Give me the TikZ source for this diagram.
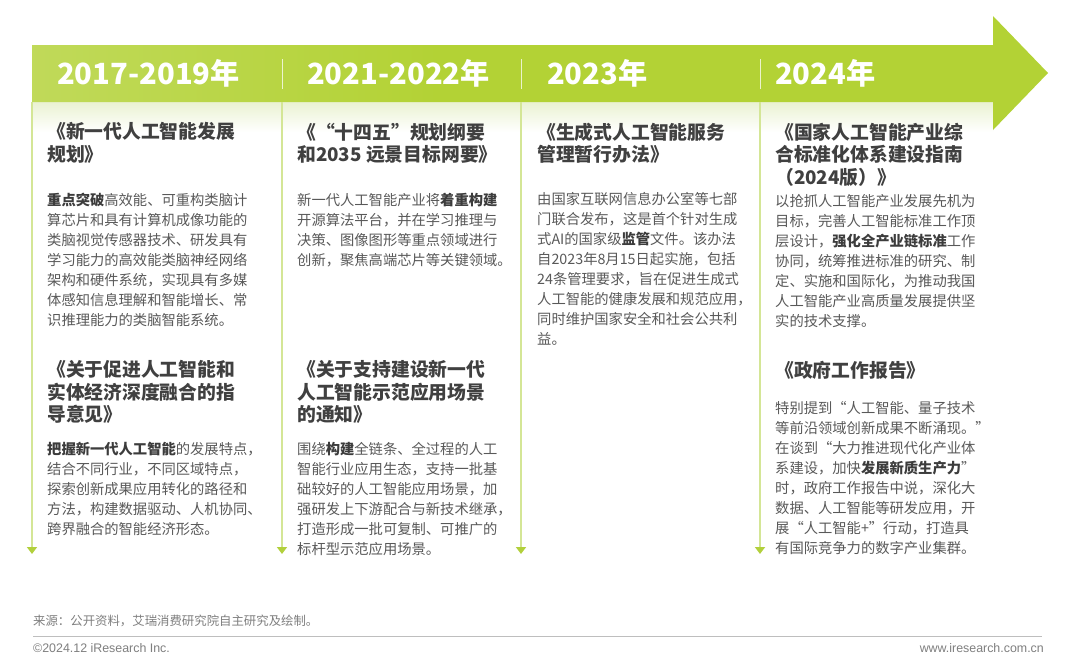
\documentclass[tikz,border=0pt]{standalone}
\usepackage{fontspec}
\setmainfont{Noto Sans CJK SC}
\newfontfamily\latinfont{Liberation Sans}
\usetikzlibrary{arrows.meta}
\definecolor{gA}{RGB}{208,227,134}
\definecolor{gB}{RGB}{179,210,53}
\definecolor{glow}{RGB}{234,242,210}
\definecolor{tline}{RGB}{212,230,150}
\definecolor{ttri}{RGB}{178,208,60}
\definecolor{ttl}{RGB}{64,64,64}
\definecolor{bdy}{RGB}{89,89,89}
\definecolor{emph}{RGB}{60,60,60}
\definecolor{foot}{RGB}{127,127,127}
\definecolor{footline}{RGB}{190,190,190}
\pgfdeclarehorizontalshading{bandshade}{100bp}{color(0bp)=(gA); color(45bp)=(gB); color(100bp)=(gB)}
\newcommand{\hlt}[1]{{\bfseries\color{emph}#1}}
\begin{document}
\begin{tikzpicture}[x=1pt,y=-1pt,
  yeartxt/.style={anchor=base west, inner sep=0pt, text=white, font=\fontsize{29.2}{30}\selectfont\bfseries},
  ttlblk/.style={anchor=north west, inner sep=0pt, align=left, text=ttl, font=\fontsize{18.8}{22.5}\selectfont\bfseries},
  bodyblk/.style={anchor=north west, inner sep=0pt, align=left, text=bdy, font=\fontsize{14.3}{20}\selectfont},
  tl/.style={draw=tline, line width=2.4pt, -{Triangle[width=10pt,length=7pt,color=ttri]}},
  sepline/.style={draw=white, opacity=0.75, line width=1pt},
  foottxt/.style={inner sep=0pt, text=foot}]
\useasboundingbox (0,0) rectangle (1080,662);
\fill[white] (0,0) rectangle (1080,662);
% glow under band
\shade[top color=glow, bottom color=white] (32,102) rectangle (993,132);
% big arrow
\shade[shading=bandshade] (32,45) -- (993,45) -- (993,16) -- (1048,73) -- (993,130) -- (993,102) -- (32,102) -- cycle;
% separators
\foreach \i/\x in {1/282,2/521,3/760}{
  \coordinate (s\i a) at (\x,59);
  \coordinate (s\i b) at (\x,89);
  \draw[sepline] (s\i a) -- (s\i b);
}
% years
\node[yeartxt] (y1) at (57,84) {2017-2019年};
\node[yeartxt] (y2) at (307,84) {2021-2022年};
\node[yeartxt] (y3) at (547,84) {2023年};
\node[yeartxt] (y4) at (775,84) {2024年};
% timelines
\foreach \i/\x in {1/32,2/282,3/521,4/760}{
  \coordinate (t\i a) at (\x,102);
  \coordinate (t\i b) at (\x,554);
  \draw[tl] (t\i a) -- (t\i b);
}
% column 1
\node[ttlblk] (c1t1) at (47,122.5) {《新一代人工智能发展\\规划》};
\node[bodyblk] (c1b1) at (47,192.6) {\hlt{重点突破}高效能、可重构类脑计\\算芯片和具有计算机成像功能的\\类脑视觉传感器技术、研发具有\\学习能力的高效能类脑神经网络\\架构和硬件系统，实现具有多媒\\体感知信息理解和智能增长、常\\识推理能力的类脑智能系统。};
\node[ttlblk] (c1t2) at (47,360.5) {《关于促进人工智能和\\实体经济深度融合的指\\导意见》};
\node[bodyblk] (c1b2) at (47,441.6) {\hlt{把握新一代人工智能}的发展特点，\\结合不同行业，不同区域特点，\\探索创新成果应用转化的路径和\\方法，构建数据驱动、人机协同、\\跨界融合的智能经济形态。};
% column 2
\node[ttlblk] (c2t1) at (297,122.5) {《“十四五”规划纲要\\和2035 远景目标网要》};
\node[bodyblk] (c2b1) at (297,192.6) {新一代人工智能产业将\hlt{着重构建}\\开源算法平台，并在学习推理与\\决策、图像图形等重点领域进行\\创新，聚焦高端芯片等关键领域。};
\node[ttlblk] (c2t2) at (297,360.5) {《关于支持建设新一代\\人工智能示范应用场景\\的通知》};
\node[bodyblk] (c2b2) at (297,441.6) {围绕\hlt{构建}全链条、全过程的人工\\智能行业应用生态，支持一批基\\础较好的人工智能应用场景，加\\强研发上下游配合与新技术继承，\\打造形成一批可复制、可推广的\\标杆型示范应用场景。};
% column 3
\node[ttlblk] (c3t1) at (537,122.5) {《生成式人工智能服务\\管理暂行办法》};
\node[bodyblk] (c3b1) at (537,192.6) {由国家互联网信息办公室等七部\\门联合发布，这是首个针对生成\\式AI的国家级\hlt{监管}文件。该办法\\自2023年8月15日起实施，包括\\24条管理要求，旨在促进生成式\\人工智能的健康发展和规范应用，\\同时维护国家安全和社会公共利\\益。};
% column 4
\node[ttlblk] (c4t1) at (775,122.5) {《国家人工智能产业综\\合标准化体系建设指南\\（2024版）》};
\node[bodyblk] (c4b1) at (775,194.6) {以抢抓人工智能产业发展先机为\\目标，完善人工智能标准工作顶\\层设计，\hlt{强化全产业链标准}工作\\协同，统筹推进标准的研究、制\\定、实施和国际化，为推动我国\\人工智能产业高质量发展提供坚\\实的技术支撑。};
\node[ttlblk] (c4t2) at (775,360.5) {《政府工作报告》};
\node[bodyblk] (c4b2) at (775,401.6) {特别提到“人工智能、量子技术\\等前沿领域创新成果不断涌现。”\\在谈到“大力推进现代化产业体\\系建设，加快\hlt{发展新质生产力}”\\时，政府工作报告中说，深化大\\数据、人工智能等研发应用，开\\展“人工智能+”行动，打造具\\有国际竞争力的数字产业集群。};
% footer
\node[foottxt, anchor=west, font=\fontsize{12.4}{13}\selectfont] (src) at (33,621) {来源：公开资料，艾瑞消费研究院自主研究及绘制。};
\coordinate (fl1) at (33,636);
\coordinate (fl2) at (1042,636);
\draw[footline, line width=1pt] (fl1) -- (fl2);
\node[foottxt, anchor=west, font=\latinfont\fontsize{12.4}{13}\selectfont] (copy) at (33,648) {©2024.12 iResearch Inc.};
\node[foottxt, anchor=east, font=\latinfont\fontsize{12.4}{13}\selectfont] (web) at (1044,648) {www.iresearch.com.cn};
\end{tikzpicture}
\end{document}
